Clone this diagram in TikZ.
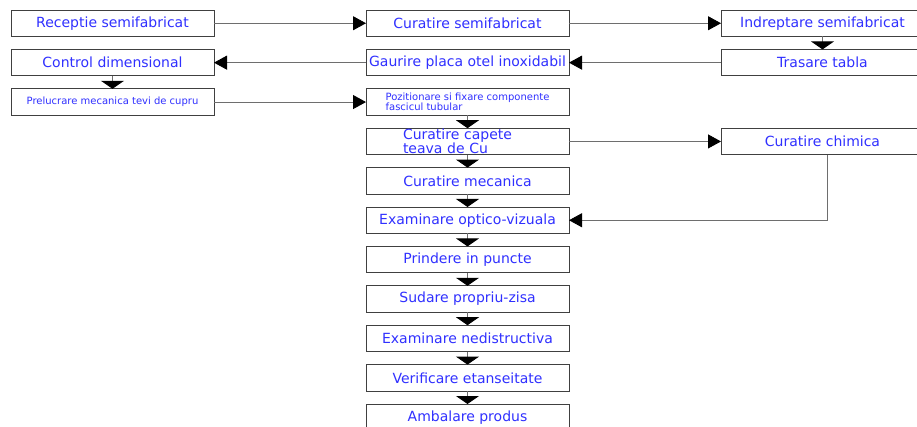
\documentclass[tikz,border=0pt]{standalone}
\usepackage{fontspec}
\setmainfont{DejaVu Sans}
\usepackage{xcolor}
\usepackage{tikz}
\usetikzlibrary{positioning}
\usetikzlibrary{arrows.meta}

\definecolor{txtblue}{RGB}{48,48,255}
\definecolor{boxgray}{RGB}{64,64,64}
\definecolor{linegray}{RGB}{110,110,110}

\begin{document}
\begin{tikzpicture}[x=1pt,y=1pt,node distance=12.9pt and 152pt,
  box/.style={draw=boxgray,line width=0.9pt,fill=white,text=txtblue,
    minimum width=203pt,minimum height=26.5pt,inner sep=0pt,outer sep=0pt,
    font=\fontsize{14}{12}\selectfont},
  small/.style={font=\fontsize{10}{10}\selectfont},
  harrow/.style={draw=linegray,line width=0.9pt,
    -{Triangle[length=13pt,width=14pt,fill=black,color=black]}},
  varrow/.style={draw=linegray,line width=0.9pt,
    -{Triangle[length=8pt,width=23pt,fill=black,color=black]}}]
\useasboundingbox (0,0) rectangle (917,-427);
\begin{scope}
\clip (0,0) rectangle (917,-427);
% left column
\node[box] (recep) at (112.5,-23.25) {Receptie semifabricat};
\node[box] (control) [below=of recep] {Control dimensional};
\node[box,small] (prelucr) [below=of control] {Prelucrare mecanica tevi de cupru};
% middle column
\node[box] (curs) [right=of recep] {Curatire semifabricat};
\node[box] (gaurire) [below=of curs] {Gaurire placa otel inoxidabil};
\node[box,small,align=left] (pozit) [below=of gaurire]
  {Pozitionare si fixare componente\\fascicul tubular};
\node[box,align=left,text width=129pt,inner xsep=37pt] (capete) [below=of pozit]
  {Curatire capete\\teava de Cu};
\node[box] (mecanica) [below=of capete] {Curatire mecanica};
\node[box] (optico) [below=of mecanica] {Examinare optico-vizuala};
\node[box] (prindere) [below=of optico] {Prindere in puncte};
\node[box] (sudare) [below=of prindere] {Sudare propriu-zisa};
\node[box] (nedistr) [below=of sudare] {Examinare nedistructiva};
\node[box] (verif) [below=of nedistr] {Verificare etanseitate};
\node[box] (ambalare) [below=of verif] {Ambalare produs};
% right column
\node[box] (indrept) [right=of curs] {Indreptare semifabricat};
\node[box] (trasare) [below=of indrept] {Trasare tabla};
\node[box] (chimica) [right=of capete] {Curatire chimica};

\path (recep)   edge[harrow] (curs)
      (curs)    edge[harrow] (indrept)
      (indrept) edge[varrow] (trasare)
      (trasare) edge[harrow] (gaurire)
      (gaurire) edge[harrow] (control)
      (control) edge[varrow] (prelucr)
      (prelucr) edge[harrow] (pozit)
      (pozit)   edge[varrow] (capete)
      (capete)  edge[harrow] (chimica)
      (capete)  edge[varrow] (mecanica)
      (mecanica) edge[varrow] (optico)
      (optico)  edge[varrow] (prindere)
      (prindere) edge[varrow] (sudare)
      (sudare)  edge[varrow] (nedistr)
      (nedistr) edge[varrow] (verif)
      (verif)   edge[varrow] (ambalare);
\draw[harrow] ([xshift=5pt]chimica.south) |- (optico.east);
\end{scope}
\end{tikzpicture}
\end{document}
